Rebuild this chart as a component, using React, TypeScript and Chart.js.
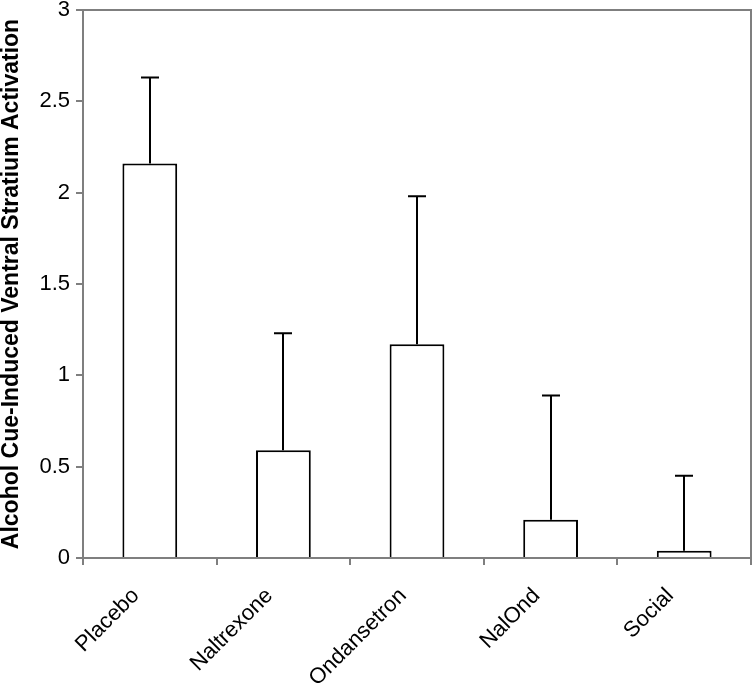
import React, { useEffect, useRef } from "react";
import { Chart, registerables } from "chart.js";

Chart.register(...registerables);

const categories = ["Placebo", "Naltrexone", "Ondansetron", "NalOnd", "Social"];
const means = [2.16, 0.59, 1.17, 0.21, 0.04];
const errorTops = [2.63, 1.23, 1.98, 0.89, 0.45];
const yTicks = [0, 0.5, 1, 1.5, 2, 2.5, 3];

const AXIS = "#7f7f7f";
const FONT = "Liberation Sans, Arial, sans-serif";

const errorBarPlugin = {
  id: "errorBars",
  afterDatasetsDraw(chart: any) {
    const meta = chart.getDatasetMeta(0);
    const y = chart.scales.y;
    const ctx = chart.ctx;
    ctx.save();
    ctx.strokeStyle = "#000";
    ctx.lineWidth = 2;
    meta.data.forEach((bar: any, i: number) => {
      const x = Math.round(bar.x);
      const y0 = y.getPixelForValue(means[i]);
      const y1 = y.getPixelForValue(errorTops[i]);
      ctx.beginPath();
      ctx.moveTo(x, y0);
      ctx.lineTo(x, y1);
      ctx.moveTo(x - 9, y1);
      ctx.lineTo(x + 9, y1);
      ctx.stroke();
    });
    ctx.restore();
  },
};

const framePlugin = {
  id: "frame",
  afterDraw(chart: any) {
    const { left, right, top, bottom } = chart.chartArea;
    const ctx = chart.ctx;
    ctx.save();
    ctx.strokeStyle = AXIS;
    ctx.lineWidth = 2;
    ctx.beginPath();
    ctx.moveTo(left, top);
    ctx.lineTo(right, top);
    ctx.lineTo(right, bottom);
    ctx.stroke();
    ctx.restore();
  },
};

export default function App() {
  const ref = useRef<HTMLCanvasElement | null>(null);
  useEffect(() => {
    document.body.style.margin = "0";
    const chart = new Chart(ref.current as HTMLCanvasElement, {
      type: "bar",
      data: {
        labels: categories,
        datasets: [
          {
            data: means,
            backgroundColor: "#ffffff",
            borderColor: "#000000",
            borderWidth: 2,
            borderSkipped: "bottom",
            barPercentage: 0.41,
            categoryPercentage: 1,
          },
        ],
      },
      options: {
        animation: false,
        responsive: false,
        layout: { padding: { top: 10, right: 2, left: 0, bottom: 0 } },
        plugins: { legend: { display: false }, tooltip: { enabled: false } },
        scales: {
          x: {
            offset: true,
            grid: {
              offset: true,
              drawOnChartArea: false,
              drawTicks: true,
              tickLength: 7,
              color: AXIS,
              lineWidth: 2,
            },
            border: { color: AXIS, width: 2 },
            ticks: {
              color: "#000",
              font: { family: FONT, size: 22 },
              minRotation: 45,
              maxRotation: 45,
              padding: 18,
              labelOffset: -14,
            },
            afterFit(scale: any) {
              scale.height = 133;
              scale.paddingLeft = 0;
              scale.paddingRight = 0;
            },
          },
          y: {
            min: 0,
            max: 3,
            afterBuildTicks(scale: any) {
              scale.ticks = yTicks.map((v) => ({ value: v }));
            },
            grid: {
              drawOnChartArea: false,
              drawTicks: true,
              tickLength: 7,
              color: AXIS,
              lineWidth: 2,
            },
            border: { color: AXIS, width: 2 },
            ticks: {
              color: "#000",
              font: { family: FONT, size: 22 },
              padding: 6,
              callback: (v: any) => String(v),
            },
            title: {
              display: true,
              text: "Alcohol Cue-Induced Ventral Stratium Activation",
              color: "#000",
              font: { family: FONT, size: 23, weight: "bold" },
              padding: { top: -2, bottom: 0 },
            },
            afterFit(scale: any) {
              scale.width = 83;
              scale.paddingTop = 0;
              scale.paddingBottom = 0;
            },
          },
        },
      },
      plugins: [errorBarPlugin, framePlugin],
    });
    return () => chart.destroy();
  }, []);
  return (
    <div style={{ width: 753, height: 691 }}>
      <canvas ref={ref} width={753} height={691} style={{ display: "block" }} />
    </div>
  );
}
